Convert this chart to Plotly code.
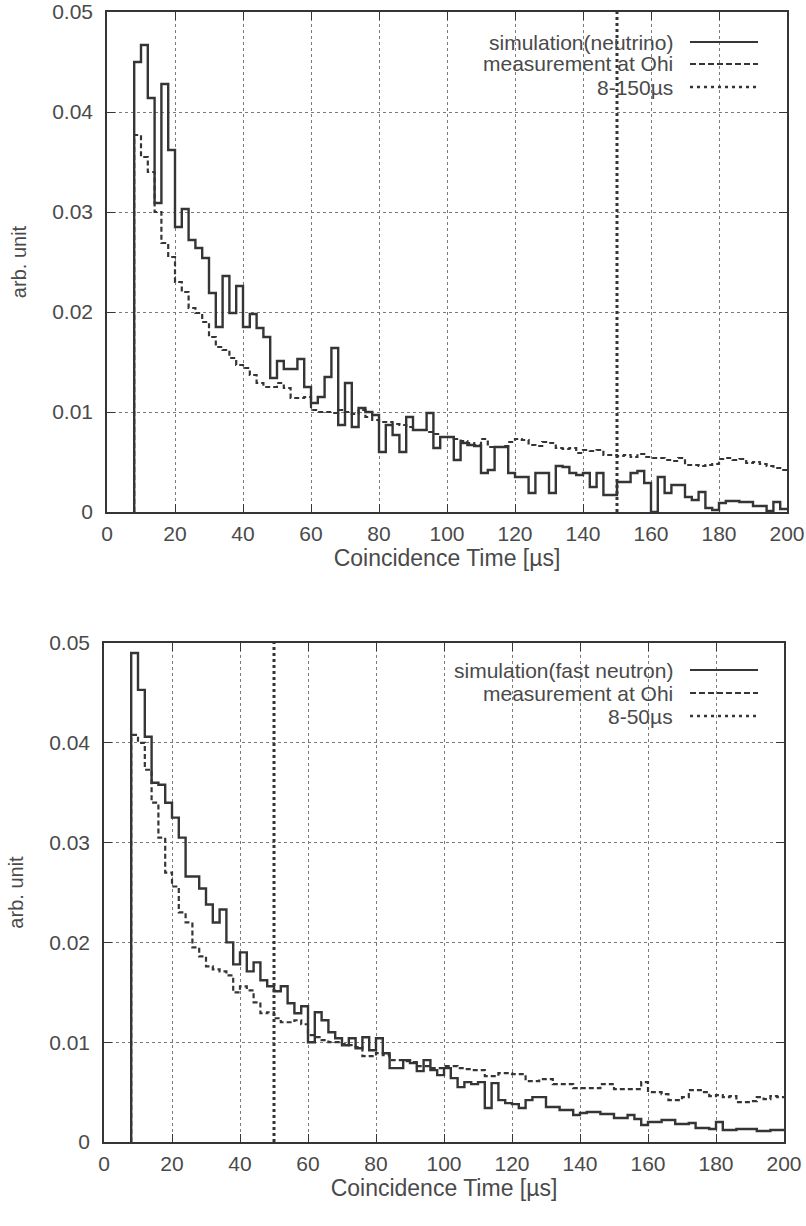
import plotly.graph_objects as go

W, H = 806, 1226

# ---------------- data (bin width 2 us, bins start at 8 us) ----------------
bin_start = list(range(8, 200, 2))

sim_neutrino = [
    0.0450, 0.0467, 0.0414, 0.0309, 0.0428, 0.0362, 0.0285, 0.0303, 0.0272, 0.0264,
    0.0254, 0.0219, 0.0185, 0.0236, 0.0199, 0.0226, 0.0185, 0.0198, 0.0184, 0.0175,
    0.0134, 0.0151, 0.0143, 0.0143, 0.0153, 0.0125, 0.0109, 0.0115, 0.0135, 0.0164,
    0.0087, 0.0129, 0.0085, 0.0104, 0.0100, 0.0097, 0.0060, 0.0087, 0.0077, 0.0060,
    0.0095, 0.0082, 0.0082, 0.0099, 0.0064, 0.0075, 0.0075, 0.0052, 0.0069, 0.0067,
    0.0066, 0.0039, 0.0042, 0.0065, 0.0065, 0.0039, 0.0035, 0.0035, 0.0019, 0.0039,
    0.0039, 0.0019, 0.0046, 0.0045, 0.0039, 0.0037, 0.0039, 0.0025, 0.0039, 0.0017,
    0.0017, 0.0030, 0.0030, 0.0039, 0.0041, 0.0029, 0.0000, 0.0035, 0.0019, 0.0027,
    0.0027, 0.0015, 0.0012, 0.0020, 0.0004, 0.0002, 0.0009, 0.0011, 0.0011, 0.0010,
    0.0010, 0.0006, 0.0006, 0.0001, 0.0010, 0.0003,
]

meas_top = [
    0.0377, 0.0355, 0.0340, 0.0300, 0.0269, 0.0255, 0.0230, 0.0220, 0.0204, 0.0199,
    0.0190, 0.0175, 0.0165, 0.0162, 0.0154, 0.0147, 0.0144, 0.0137, 0.0129, 0.0125,
    0.0125, 0.0129, 0.0124, 0.0114, 0.0114, 0.0115, 0.0102, 0.0100, 0.0100, 0.0099,
    0.0102, 0.0100, 0.0098, 0.0102, 0.0095, 0.0092, 0.0090, 0.0090, 0.0088, 0.0087,
    0.0085, 0.0082, 0.0082, 0.0080, 0.0078, 0.0075, 0.0075, 0.0073, 0.0071, 0.0069,
    0.0067, 0.0073, 0.0065, 0.0065, 0.0066, 0.0070, 0.0073, 0.0072, 0.0067, 0.0066,
    0.0070, 0.0069, 0.0064, 0.0063, 0.0064, 0.0059, 0.0062, 0.0061, 0.0062, 0.0057,
    0.0057, 0.0056, 0.0057, 0.0055, 0.0058, 0.0055, 0.0054, 0.0054, 0.0052, 0.0051,
    0.0054, 0.0047, 0.0047, 0.0046, 0.0047, 0.0048, 0.0053, 0.0054, 0.0052, 0.0053,
    0.0049, 0.0050, 0.0048, 0.0046, 0.0044, 0.0042,
]

sim_fast_neutron = [
    0.0490, 0.0453, 0.0406, 0.0360, 0.0358, 0.0340, 0.0325, 0.0305, 0.0266, 0.0266,
    0.0254, 0.0238, 0.0220, 0.0233, 0.0200, 0.0178, 0.0190, 0.0171, 0.0180, 0.0162,
    0.0156, 0.0151, 0.0156, 0.0139, 0.0129, 0.0136, 0.0100, 0.0130, 0.0122, 0.0110,
    0.0104, 0.0097, 0.0104, 0.0094, 0.0105, 0.0092, 0.0104, 0.0089, 0.0074, 0.0074,
    0.0082, 0.0079, 0.0071, 0.0082, 0.0072, 0.0067, 0.0074, 0.0064, 0.0055, 0.0060,
    0.0058, 0.0060, 0.0034, 0.0059, 0.0042, 0.0039, 0.0038, 0.0034, 0.0042, 0.0045,
    0.0045, 0.0035, 0.0035, 0.0032, 0.0032, 0.0027, 0.0029, 0.0030, 0.0030, 0.0028,
    0.0028, 0.0024, 0.0024, 0.0027, 0.0023, 0.0017, 0.0020, 0.0020, 0.0022, 0.0022,
    0.0018, 0.0018, 0.0019, 0.0014, 0.0014, 0.0013, 0.0020, 0.0012, 0.0012, 0.0013,
    0.0013, 0.0013, 0.0011, 0.0011, 0.0012, 0.0012,
]

meas_bottom = [
    0.0408, 0.0400, 0.0373, 0.0340, 0.0305, 0.0270, 0.0256, 0.0230, 0.0220, 0.0195,
    0.0186, 0.0176, 0.0173, 0.0171, 0.0167, 0.0150, 0.0156, 0.0152, 0.0140, 0.0129,
    0.0130, 0.0124, 0.0120, 0.0120, 0.0122, 0.0118, 0.0107, 0.0105, 0.0102, 0.0100,
    0.0100, 0.0098, 0.0097, 0.0095, 0.0086, 0.0086, 0.0089, 0.0087, 0.0082, 0.0082,
    0.0081, 0.0080, 0.0076, 0.0076, 0.0074, 0.0074, 0.0076, 0.0076, 0.0074, 0.0073,
    0.0072, 0.0072, 0.0066, 0.0066, 0.0069, 0.0069, 0.0068, 0.0068, 0.0061, 0.0061,
    0.0063, 0.0063, 0.0058, 0.0058, 0.0058, 0.0054, 0.0054, 0.0054, 0.0054, 0.0058,
    0.0058, 0.0053, 0.0053, 0.0053, 0.0053, 0.0060, 0.0050, 0.0050, 0.0048, 0.0042,
    0.0042, 0.0045, 0.0052, 0.0052, 0.0050, 0.0046, 0.0047, 0.0045, 0.0046, 0.0040,
    0.0040, 0.0041, 0.0045, 0.0043, 0.0046, 0.0045,
]

cut_top = [8, 150]
cut_bottom = [8, 50]

x_ticks = list(range(0, 201, 20))
y_ticks = [0, 0.01, 0.02, 0.03, 0.04, 0.05]
y_ticktext = ["0", "0.01", "0.02", "0.03", "0.04", "0.05"]

legend_top = ["simulation(neutrino)", "measurement at Ohi", "8-150\u00b5s"]
legend_bottom = ["simulation(fast neutron)", "measurement at Ohi", "8-50\u00b5s"]

# ---------------- styling ----------------
INK = "#353535"
TXT = "#4a4a4a"
FONT = "Liberation Sans, Arial, sans-serif"


def step_xy(values):
    xs = [bin_start[0]] + bin_start + [bin_start[-1] + 2]
    ys = [0] + values + [values[-1]]
    return xs, ys


def px(x):
    return x / W


def py(y):
    return 1 - y / H


fig = go.Figure()

panels = [
    dict(xa="x", ya="y", sim=sim_neutrino, meas=meas_top, cut=cut_top[1],
         xdom=[107, 787], ydom=[12, 512], leg=legend_top, legy=[42, 64, 87]),
    dict(xa="x2", ya="y2", sim=sim_fast_neutron, meas=meas_bottom, cut=cut_bottom[1],
         xdom=[104, 784], ydom=[643, 1142], leg=legend_bottom, legy=[670, 693, 716]),
]

shapes = []
annotations = []
for i, p in enumerate(panels):
    xs, ys = step_xy(p["meas"])
    fig.add_trace(go.Scatter(x=xs, y=ys, mode="lines", line_shape="hv",
                             line=dict(color=INK, width=2.2, dash="5px,3px"),
                             xaxis=p["xa"], yaxis=p["ya"], showlegend=False, hoverinfo="skip"))
    xs, ys = step_xy(p["sim"])
    fig.add_trace(go.Scatter(x=xs, y=ys, mode="lines", line_shape="hv",
                             line=dict(color=INK, width=2.4),
                             xaxis=p["xa"], yaxis=p["ya"], showlegend=False, hoverinfo="skip"))
    fig.add_trace(go.Scatter(x=[p["cut"], p["cut"]], y=[0, 0.05], mode="lines",
                             line=dict(color=INK, width=3, dash="dot"),
                             xaxis=p["xa"], yaxis=p["ya"], showlegend=False, hoverinfo="skip"))

    sfx = "" if i == 0 else "2"
    axis_common = dict(showline=True, mirror="ticks", linecolor=INK, linewidth=1.6,
                       ticks="inside", ticklen=8, tickwidth=1.4, tickcolor=INK,
                       showgrid=True, gridcolor="#7a7a7a", gridwidth=1, griddash="dot",
                       zeroline=False, automargin=False,
                       tickfont=dict(family=FONT, size=21, color=TXT))
    fig.update_layout(**{
        "xaxis" + sfx: dict(axis_common, range=[0, 200], tickvals=x_ticks,
                            domain=[px(p["xdom"][0]), px(p["xdom"][1])],
                            anchor="y" + sfx, ticklabelstandoff=2,
                            title=dict(text="Coincidence Time [\u00b5s]",
                                       font=dict(family=FONT, size=23, color=TXT), standoff=2)),
        "yaxis" + sfx: dict(axis_common, range=[0, 0.05], tickvals=y_ticks, ticktext=y_ticktext,
                            domain=[py(p["ydom"][1]), py(p["ydom"][0])],
                            anchor="x" + sfx, ticklabelstandoff=8,
                            title=dict(text="arb. unit",
                                       font=dict(family=FONT, size=20, color=TXT), standoff=20)),
    })

    dashes = ["solid", "6px,3px", "3px,4px"]
    for label, yy, dsh in zip(p["leg"], p["legy"], dashes):
        annotations.append(dict(x=px(675), y=py(yy), xref="paper", yref="paper",
                                text=label, showarrow=False, xanchor="right", yanchor="middle",
                                font=dict(family=FONT, size=21, color=TXT)))
        shapes.append(dict(type="line", xref="paper", yref="paper",
                           x0=px(690), x1=px(758), y0=py(yy), y1=py(yy),
                           line=dict(color=INK, width=2.2 if dsh != "3px,4px" else 2.4, dash=dsh)))

fig.update_layout(width=W, height=H, margin=dict(l=0, r=0, t=0, b=0),
                  paper_bgcolor="white", plot_bgcolor="white",
                  shapes=shapes, annotations=annotations)

fig.write_html("out.html", config={"displayModeBar": False},
               post_script="document.body.style.margin='0';document.body.style.overflow='hidden';")
